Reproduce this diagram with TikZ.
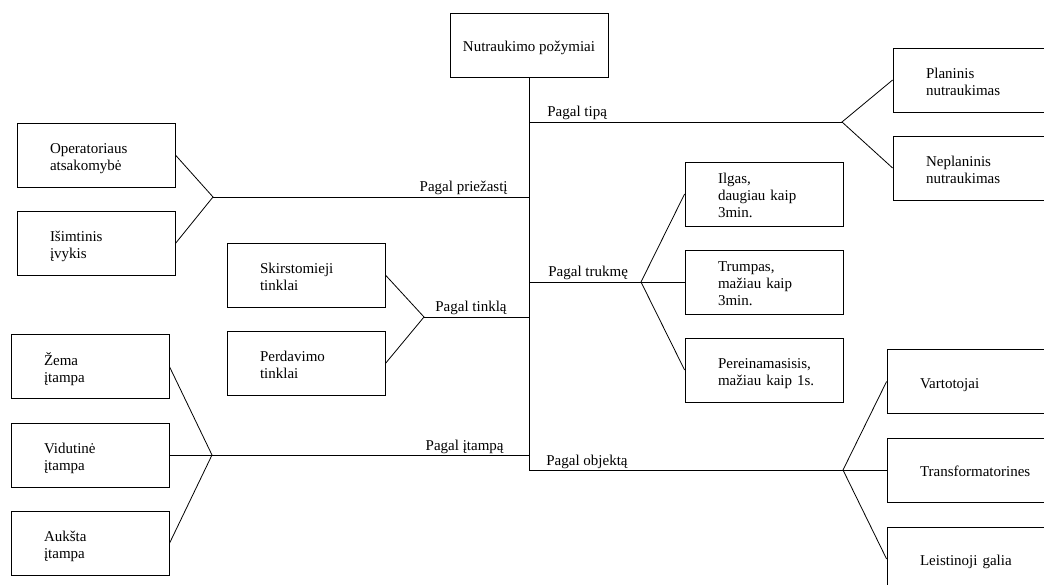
\documentclass[tikz,border=0pt]{standalone}
\usepackage{fontspec}
\setmainfont{Liberation Serif}
\usepackage{tikz}
\newcommand{\boxlines}[1]{\raisebox{-3.5pt}[\height][\depth]{\begin{tabular}{@{}l@{}}#1\end{tabular}}}
\tikzstyle{mybox} = [draw=black, line width=0.8pt, rectangle,
    minimum height=64pt, text width=92pt, inner xsep=33pt, inner ysep=0pt]
\tikzstyle{toptitle} = [draw=black, line width=0.8pt, rectangle,
    minimum width=158pt, minimum height=64pt]
\tikzstyle{branchlabel} = [inner sep=0pt, yshift=5pt]

\begin{document}
\begin{tikzpicture}[x=1pt, y=-1pt, line width=0.8pt,
    every node/.style={font=\fontsize{15}{17}\selectfont}]
                \path[use as bounding box, clip] (0,0) rectangle (1044,585);
                % root
                \node [toptitle] (root) at (529,45) {\raisebox{-3pt}[\height][\depth]{Nutraukimo požymiai}};
                % boxes on the left
                \node [mybox] (oper) at (96,155) {\boxlines{Operatoriaus\\ atsakomybė}};
                \node [mybox] (isimt) at (96,243.5) {\boxlines{Išimtinis\\ įvykis}};
                \node [mybox] (skirst) at (306,275) {\boxlines{Skirstomieji\\ tinklai}};
                \node [mybox] (perdav) at (306,363.5) {\boxlines{Perdavimo\\ tinklai}};
                \node [mybox] (zema) at (90,366.5) {\boxlines{Žema\\ įtampa}};
                \node [mybox] (vidut) at (90,455) {\boxlines{Vidutinė\\ įtampa}};
                \node [mybox] (auksta) at (90,543.5) {\boxlines{Aukšta\\ įtampa}};
                % boxes on the right
                \node [mybox] (plan) at (972,80) {\boxlines{Planinis\\ nutraukimas}};
                \node [mybox] (neplan) at (972,168) {\boxlines{Neplaninis\\ nutraukimas}};
                \node [mybox] (ilgas) at (764,194) {\boxlines{Ilgas,\\ daugiau kaip\\ 3min.}};
                \node [mybox] (trumpas) at (764,282) {\boxlines{Trumpas,\\ mažiau kaip\\ 3min.}};
                \node [mybox] (pereit) at (764,370) {\boxlines{Pereinamasisis,\\ mažiau kaip 1s.}};
                \node [mybox] (vartot) at (966,381.5) {\boxlines{Vartotojai}};
                \node [mybox] (transf) at (966,470) {\boxlines{Transformatorines}};
                \node [mybox] (leist) at (966,559) {\boxlines{Leistinoji galia}};
                % fork points
                \coordinate (ftip) at (842,122);
                \coordinate (fpriez) at (213,197);
                \coordinate (ftinkl) at (424,317);
                \coordinate (ftruk) at (641,282);
                \coordinate (fitamp) at (212,455);
                \coordinate (fobj) at (843,470);
                % trunk
                \draw (root.south) |- (fobj);
                % branches
                \draw (fpriez) -- (root.south |- fpriez);
                \node [branchlabel, anchor=base east, xshift=-21pt] (lpriez) at (root.south |- fpriez) {Pagal priežastį};
                \draw (ftinkl) -- (root.south |- ftinkl);
                \node [branchlabel, anchor=base west, xshift=11pt] (ltinkl) at (ftinkl) {Pagal tinklą};
                \draw (fitamp) -- (root.south |- fitamp);
                \node [branchlabel, anchor=base east, xshift=-25pt] (litamp) at (root.south |- fitamp) {Pagal įtampą};
                \draw (root.south |- ftip) -- (ftip);
                \node [branchlabel, anchor=base west, xshift=18pt] (ltip) at (root.south |- ftip) {Pagal tipą};
                \draw (root.south |- ftruk) -- (ftruk);
                \node [branchlabel, anchor=base west, xshift=19pt] (ltruk) at (root.south |- ftruk) {Pagal trukmę};
                \node [branchlabel, anchor=base west, xshift=17pt] (lobj) at (root.south |- fobj) {Pagal objektą};
                % fans to the boxes
                \draw (oper.east) -- (fpriez) -- (isimt.east);
                \draw (skirst.east) -- (ftinkl) -- (perdav.east);
                \draw (zema.east) -- (fitamp) -- (auksta.east);
                \draw (vidut.east) -- (fitamp);
                \draw (plan.west) -- (ftip) -- (neplan.west);
                \draw (ilgas.west) -- (ftruk) -- (pereit.west);
                \draw (trumpas.west) -- (ftruk);
                \draw (vartot.west) -- (fobj) -- (leist.west);
                \draw (transf.west) -- (fobj);
            \end{tikzpicture}
\end{document}
